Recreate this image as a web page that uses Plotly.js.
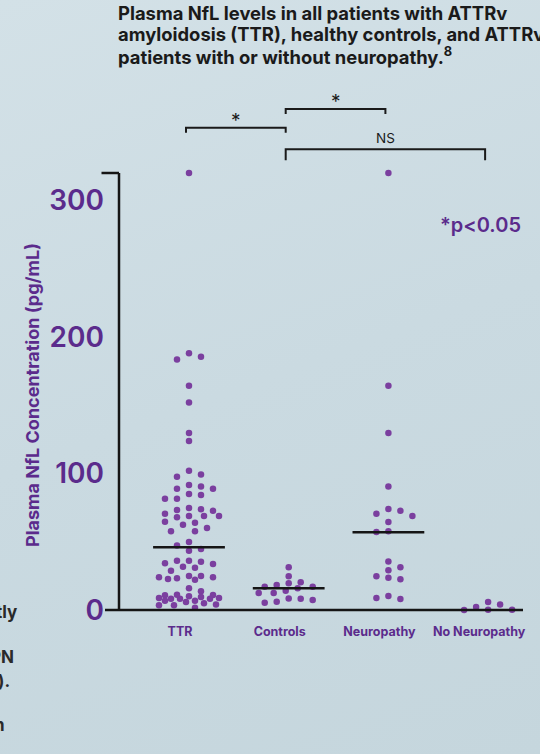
<!DOCTYPE html>
<html>
<head>
<meta charset="utf-8">
<script src="https://cdn.plot.ly/plotly-3.0.1.min.js"></script>
<style>
  html, body { margin: 0; padding: 0; }
  body { width: 540px; height: 754px; overflow: hidden;
    background: linear-gradient(160deg, #d3e1e7 0%, #cadae1 50%, #c5d6dd 100%); }
  #chart { width: 540px; height: 754px; }
</style>
</head>
<body>
<div id="chart"></div>
<script>
// ---------------- data ----------------
const categories = ['TTR', 'Controls', 'Neuropathy', 'No Neuropathy'];

const ttrValues = [320, 188, 183.5, 185.5, 164.2, 152, 129.6, 123.7,
  102, 97.6, 99.3, 90.5, 88.8, 88.8, 91.5, 84.2, 81.5, 81.5, 84.9,
  74.7, 73.2, 70.5, 72.7, 73.7, 68.8, 67.9, 68.8, 68.8, 63.9, 64.7,
  60, 57.6, 57.6, 62.4, 49.8, 47.3, 43.4, 44.7,
  34.2, 36.1, 35.4, 36.1, 33.7, 31.7, 28.8, 31,
  24.9, 23.9, 23.2, 22.2, 22.7, 23.9, 24.9, 15.9,
  13.7, 11, 10, 8.8, 8.3, 8.3, 8.3, 8.8, 9.5, 10.8, 11.2,
  6.8, 4.9, 3.4, 1.7, 3.4, 4.1, 5.9, 6.8];

const controlValues = [31.3, 24.7, 20.3, 18.3, 19.5, 17.1, 17.1, 15.9,
  14.1, 12.4, 12.4, 8.3, 7.3, 5.4, 6.1, 8.5];

const neuropathyValues = [320, 164.2, 129.6, 90.5, 72.7, 68.8, 70.5, 73.9,
  64.4, 57.1, 57.6, 35.6, 31.3, 29.1, 24.7, 22.5, 23.7, 10.2, 8.1, 8.8];

const noNeuropathyValues = [4.1, 0.2, 0.1, 0, 2.2, 5.9];

const medianValues = [46, 16, 57, null];

const yTickValues = [0, 100, 200, 300];

const comparisons = [
  { from: 0, to: 1, label: '*' },
  { from: 1, to: 2, label: '*' },
  { from: 1, to: 3, label: 'NS' }
];

const titleLines = [
  'Plasma NfL levels in all patients with ATTRv',
  'amyloidosis (TTR), healthy controls, and ATTRv',
  'patients with or without neuropathy.<sup>8</sup>'
];

// ---------------- layout constants ----------------
const W = 540, H = 754;
const M = { l: 119, r: 17, t: 173, b: 144 };
const plotW = W - M.l - M.r, plotH = H - M.t - M.b;
const yRange = [0, 320];
const xRange = [-0.702, 3.35];
const pxPerUnit = plotH / (yRange[1] - yRange[0]);
const pxPerCat = plotW / (xRange[1] - xRange[0]);
const px2paperX = px => (px - M.l) / plotW;
const px2paperY = py => (H - M.b - py) / plotH;

const purple = '#5b2b8c';
const dotColor = '#7b3f9f';
const ink = '#151515';
const FONT = 'Inter, sans-serif';

// deterministic swarm layout (horizontal spread of points with close values)
function swarm(vals) {
  const idx = vals.map((v, i) => i).sort((a, b) => vals[b] - vals[a]);
  const placed = [];
  const off = new Array(vals.length).fill(0);
  const DX = 12, DY = 7, MAXW = 30;
  const cands = [0];
  for (let k = 6; k <= MAXW; k += 6) cands.push(k, -k);
  let flip = 1;
  for (const i of idx) {
    const y = vals[i] * pxPerUnit;
    let x = null;
    for (const c0 of cands) {
      const c = c0 * flip;
      if (placed.every(p => Math.abs(p.x - c) >= DX - 0.01 || Math.abs(p.y - y) >= DY)) { x = c; break; }
    }
    if (x === null) {
      let best = -1;
      for (let c = -MAXW; c <= MAXW; c += 3) {
        const d = Math.min(...placed.map(p => Math.hypot((p.x - c) / DX, (p.y - y) / DY)));
        if (d > best) { best = d; x = c; }
      }
    }
    if (x !== 0) flip = -flip;
    placed.push({ x, y });
    off[i] = x / pxPerCat;
  }
  return off;
}

const groups = [ttrValues, controlValues, neuropathyValues, noNeuropathyValues];
const traces = groups.map((vals, gi) => {
  const off = swarm(vals);
  return {
    type: 'scatter', mode: 'markers',
    x: vals.map((v, i) => gi + off[i]),
    y: vals,
    name: categories[gi],
    marker: { color: dotColor, size: 6.5, line: { width: 0 } },
    cliponaxis: false,
    hoverinfo: 'y'
  };
});

const shapes = [];
// y axis line with end ticks
shapes.push({ type: 'line', xref: 'paper', yref: 'paper', x0: 0, x1: 0, y0: 0, y1: 1,
  line: { color: ink, width: 2.5 } });
shapes.push({ type: 'line', xref: 'paper', yref: 'paper', x0: px2paperX(101.5), x1: 0, y0: 1, y1: 1,
  line: { color: ink, width: 2.5 } });
// x axis line
shapes.push({ type: 'line', xref: 'paper', yref: 'paper', x0: px2paperX(105), x1: 1, y0: 0, y1: 0,
  line: { color: ink, width: 2.5 } });
// medians
medianValues.forEach((m, i) => {
  if (m === null) return;
  shapes.push({ type: 'line', xref: 'x', yref: 'y', x0: i - 0.36, x1: i + 0.36, y0: m, y1: m,
    line: { color: ink, width: 2.5 } });
});

// significance brackets (bar height, leg length, label y in px)
const bracketGeom = [
  { bar: 127.7, leg: 5, lab: 120, size: 19 },
  { bar: 109, leg: 5, lab: 102, size: 19 },
  { bar: 149.3, leg: 11, lab: 138, size: 13.5 }
];
const annotations = [];
comparisons.forEach((c, k) => {
  const g = bracketGeom[k];
  const yb = px2paperY(g.bar), yl = px2paperY(g.bar + g.leg);
  shapes.push({ type: 'path', xref: 'x', yref: 'paper',
    path: `M ${c.from - 0.03} ${yl} L ${c.from - 0.03} ${yb} L ${c.to - 0.03} ${yb} L ${c.to - 0.03} ${yl}`,
    line: { color: '#1a1a1a', width: 2 } });
  annotations.push({ xref: 'x', yref: 'paper', x: (c.from + c.to) / 2 - 0.03, y: px2paperY(g.lab),
    text: c.label, showarrow: false, xanchor: 'center', yanchor: 'middle',
    font: { family: FONT, size: g.size, color: '#1a1a1a', weight: 400 } });
});

// title, one annotation per line
const titleCenters = [12.5, 34, 56];
titleLines.forEach((t, i) => annotations.push({ xref: 'paper', yref: 'paper',
  x: px2paperX(116), y: px2paperY(titleCenters[i]),
  xanchor: 'left', yanchor: 'middle', align: 'left', showarrow: false, text: t,
  font: { family: FONT, size: 18.4, color: '#1a1a1a', weight: 700 } }));

// y axis title
annotations.push({ xref: 'paper', yref: 'paper', x: px2paperX(32), y: px2paperY(395),
  xanchor: 'center', yanchor: 'middle', textangle: -90, showarrow: false,
  text: 'Plasma NfL Concentration (pg/mL)',
  font: { family: FONT, size: 18, color: purple, weight: 700 } });

// p-value note
annotations.push({ xref: 'paper', yref: 'paper', x: px2paperX(523), y: px2paperY(225),
  xanchor: 'right', yanchor: 'middle', showarrow: false, text: '*p<0.05',
  font: { family: FONT, size: 20, color: purple, weight: 600 } });

// cropped neighbouring text fragments at left edge
const fragments = [
  { t: 'tly', x: 19, y: 612 }, { t: 'PN', x: 16, y: 657 },
  { t: ').', x: 12, y: 681 }, { t: 'h', x: 7, y: 725 }
];
fragments.forEach(f => annotations.push({ xref: 'paper', yref: 'paper',
  x: px2paperX(f.x), y: px2paperY(f.y), xanchor: 'right', yanchor: 'middle', showarrow: false,
  text: f.t, font: { family: FONT, size: 17, color: '#2a2a2a', weight: 700 } }));

const layout = {
  width: W, height: H,
  margin: M,
  paper_bgcolor: 'rgba(0,0,0,0)', plot_bgcolor: 'rgba(0,0,0,0)',
  showlegend: false,
  xaxis: {
    range: xRange, showgrid: false, zeroline: false, showline: false,
    tickvals: [0, 1, 2, 3], ticktext: categories, ticks: '',
    ticklabelstandoff: 12, ticklabelshift: -9,
    tickfont: { family: FONT, size: 12.5, color: purple, weight: 700 }
  },
  yaxis: {
    range: yRange, showgrid: false, zeroline: false, showline: false,
    tickvals: yTickValues, ticks: '', ticklabelstandoff: 14,
    tickfont: { family: FONT, size: 28, color: purple, weight: 600 }
  },
  shapes, annotations
};

Plotly.newPlot('chart', traces, layout, { displayModeBar: false, staticPlot: true });
</script>
</body>
</html>
